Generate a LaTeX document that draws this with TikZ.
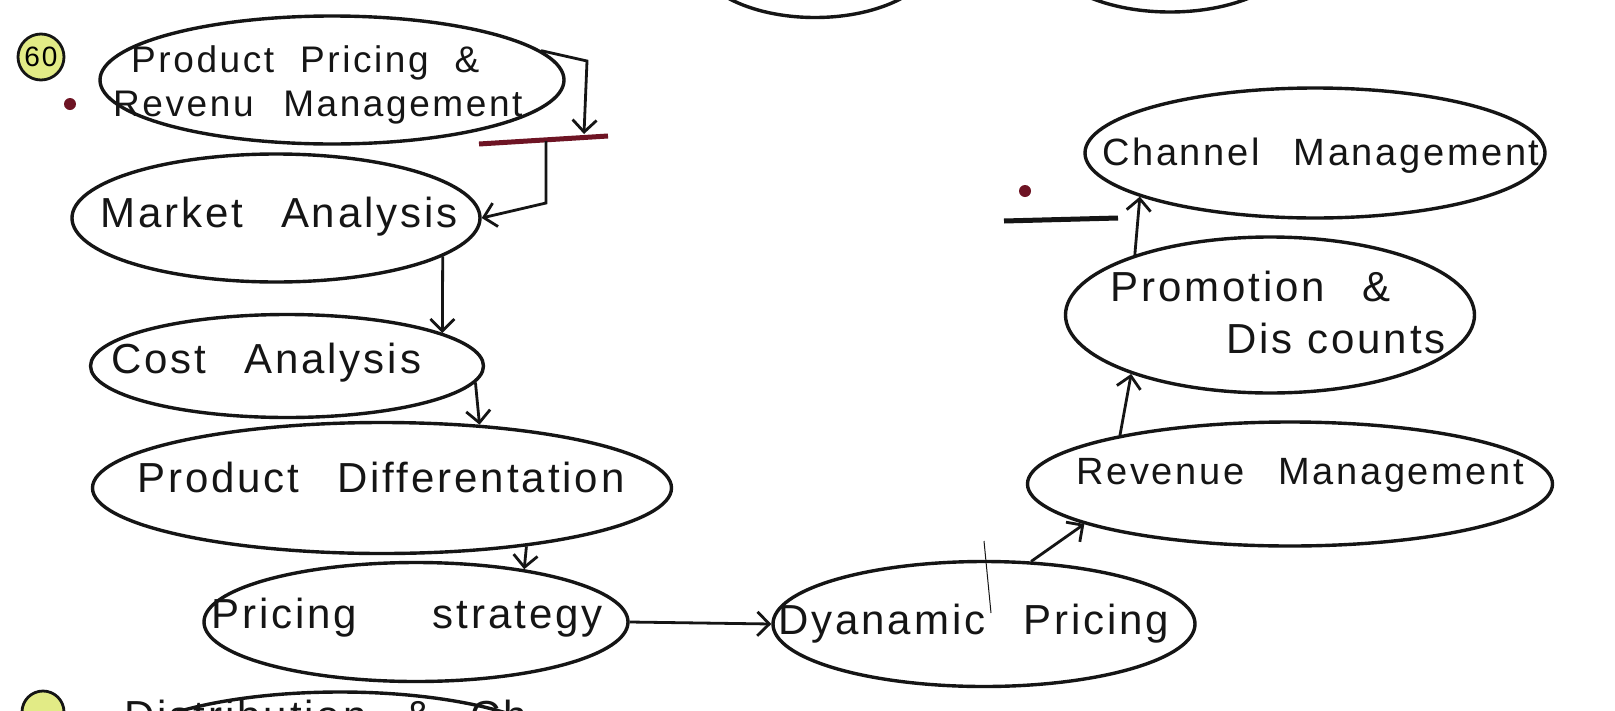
\documentclass[tikz,border=0pt]{standalone}
\usepackage{fontspec}
\newfontfamily\hand[LetterSpace=7]{Liberation Sans}
\usetikzlibrary{arrows.meta,shapes.geometric}
\definecolor{ink}{HTML}{151515}
\definecolor{hl}{HTML}{E2EB86}
\definecolor{redink}{HTML}{6E1424}
\newcommand\wgap{\hspace{0.9em}}
\tikzset{
  oval/.style={draw=ink, ellipse, line width=3.4pt, inner sep=0pt},
  lbl/.style={anchor=base west, inner sep=0pt, text=ink, font=\hand\fontsize{42}{50}\selectfont},
  lblsm/.style={lbl, font=\hand\fontsize{38}{46}\selectfont},
  arr/.style={draw=ink, line width=2.8pt, -{Straight Barb[length=12pt,width=24pt,line width=2.8pt]}},
  redbar/.style={draw=redink, line width=5pt},
  blackbar/.style={draw=ink, line width=5pt},
  dotred/.style={fill=redink, circle, inner sep=0pt, minimum size=12pt},
  badge/.style={circle, draw=ink, fill=hl, line width=2.8pt, inner sep=0pt, minimum size=46pt, font=\hand\fontsize{28}{32}\selectfont},
}
\begin{document}
\begin{tikzpicture}[x=1pt,y=-1pt]
\useasboundingbox (0,0) rectangle (1615,710);
\fill[white] (0,0) rectangle (1615,710);
\clip (0,0) rectangle (1615,710);

% partial shapes at the edges
\node[oval, minimum width=240pt, minimum height=125pt] (top1) at (815,-45) {};
\node[oval, minimum width=250pt, minimum height=124pt] (top2) at (1170,-50) {};
\node[oval, minimum width=460pt, minimum height=136pt] (bot1) at (340,760) {};
\node[badge, minimum size=42pt] (n61) at (43,712) {};
\node[lbl] (tb) at (124,730) {Distribution\wgap\&\wgap Ch};

% badge and dots
\node[badge] (n60) at (41,57) {60};
\node[dotred] (d1) at (70,104) {};
\node[dotred] (d2) at (1025,191) {};

% ellipses
\node[oval, minimum width=464pt, minimum height=128pt] (e1) at (332,80) {};
\node[oval, minimum width=408pt, minimum height=128pt] (e2) at (276,218) {};
\node[oval, minimum width=393pt, minimum height=103pt] (e3) at (287,366) {};
\node[oval, minimum width=579pt, minimum height=131pt] (e4) at (382,488) {};
\node[oval, minimum width=424pt, minimum height=119pt] (e5) at (416,622) {};
\node[oval, minimum width=422pt, minimum height=125pt] (e6) at (984,624) {};
\node[oval, minimum width=525pt, minimum height=124pt] (e7) at (1290,484) {};
\node[oval, minimum width=409pt, minimum height=156pt] (e8) at (1270,315) {};
\node[oval, minimum width=460pt, minimum height=130pt] (e9) at (1315,153) {};

% labels
\node[lblsm, font=\hand\fontsize{37}{44}\selectfont] (t1a) at (131,72) {Product\hspace{0.7em}Pricing\hspace{0.7em}\&};
\node[lblsm, font=\hand\fontsize{37}{44}\selectfont] (t1b) at (113,116) {Revenu\hspace{0.8em}Management};
\node[lbl] (t2) at (100,227) {Market\wgap Analysis};
\node[lbl] (t3) at (111,373) {Cost\wgap Analysis};
\node[lbl] (t4) at (137,492) {Product\wgap Differentation};
\node[lbl] (t5) at (211,628) {Pricing\wgap\wgap strategy};
\node[lbl] (t6) at (778,634) {Dyanamic\wgap Pricing};
\node[lblsm] (t7) at (1076,484) {Revenue\wgap Management};
\node[lbl] (t8a) at (1110,301) {Promotion\wgap \&};
\node[lbl] (t8b) at (1226,353) {Dis counts};
\node[lblsm] (t9) at (1102,165) {Channel\wgap Management};

% bars
\coordinate (r1a) at (479,144);
\coordinate (r1b) at (608,136);
\draw[redbar] (r1a) -- (r1b);
\coordinate (k1a) at (1004,221);
\coordinate (k1b) at (1118,218);
\draw[blackbar] (k1a) -- (k1b);
\coordinate (bar1) at (584,134);
\coordinate (bar2) at (546,141);

% connectors
\draw[arr] (e1.8) -- (587,61) -- (bar1);
\draw[arr] (bar2) -- (546,203) -- (e2.east);
\draw[arr] (e2.-13) -- (e3.12);
\draw[arr] (e3.-5) -- (e4.33);
\draw[arr] (e4.-22.5) -- (e5.26);
\draw[arr] (e5.east) -- (e6.west);
\draw[arr] (e6.53) -- (e7.-169);
\draw[arr] (e7.164.7) -- (e8.-157);
\draw[arr] (e8.156.2) -- (e9.-166.8);

% stray pen stroke
\coordinate (s1) at (984,541);
\coordinate (s2) at (991,613);
\draw[draw=ink, line width=1pt] (s1) -- (s2);
\end{tikzpicture}
\end{document}
